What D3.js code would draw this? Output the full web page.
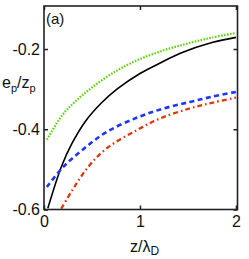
<!DOCTYPE html>
<html>
<head>
<meta charset="utf-8">
<script src="https://cdn.jsdelivr.net/npm/d3@7"></script>
<style>
  html, body { margin: 0; padding: 0; background: #fff; }
  svg text { font-family: "Liberation Sans", Arial, sans-serif; fill: #111; }
</style>
</head>
<body>
<div id="chart"></div>
<script>
// Values
const xTicks = [0, 1, 2];
const yTicks = [-0.6, -0.4, -0.2];

const solidX = [0.04, 0.18, 0.29, 0.44, 0.6, 0.76, 1.0, 1.2, 1.42, 1.75, 2.0];
const solidY = [-0.597, -0.494, -0.436, -0.3775, -0.334, -0.300, -0.261, -0.236, -0.2105, -0.184, -0.171];

const dottedX = [0.03, 0.19, 0.33, 0.5, 0.75, 1.0, 1.25, 1.5, 1.75, 2.0];
const dottedY = [-0.426, -0.365, -0.330, -0.296, -0.255, -0.225, -0.203, -0.186, -0.1715, -0.160];

const dashedX = [0.03, 0.2, 0.41, 0.65, 0.98, 1.25, 1.52, 1.75, 2.0];
const dashedY = [-0.544, -0.494, -0.4495, -0.407, -0.370, -0.348, -0.332, -0.319, -0.307];

const dashDotX = [0.18, 0.305, 0.46, 0.65, 0.965, 1.21, 1.52, 1.75, 2.0];
const dashDotY = [-0.598, -0.548, -0.494, -0.448, -0.4025, -0.373, -0.348, -0.334, -0.321];

const width = 249;
const height = 259;
const margin = { top: 6, right: 11.5, bottom: 49.5, left: 44 };

const svg = d3.select('#chart')
    .append('svg')
    .attr('width', width)
    .attr('height', height);

const x = d3.scaleLinear()
    .domain([0, 2.016])
    .range([margin.left, width - margin.right]);

const y = d3.scaleLinear()
    .domain([-0.6, -0.0928])
    .range([height - margin.bottom, margin.top]);

// clip curves to the frame
svg.append('clipPath')
    .attr('id', 'plot-clip')
    .append('rect')
    .attr('x', margin.left)
    .attr('y', margin.top)
    .attr('width', width - margin.left - margin.right)
    .attr('height', height - margin.top - margin.bottom);

const line = d3.line()
    .x((d) => x(d[0]))
    .y((d) => y(d[1]))
    .curve(d3.curveCatmullRom.alpha(0.5));

const series = [
    { xs: dottedX, ys: dottedY, color: '#5fd40a', width: 2.2, dash: '1.6,1.4' },
    { xs: solidX, ys: solidY, color: '#000000', width: 1.6, dash: null },
    { xs: dashedX, ys: dashedY, color: '#1e36ff', width: 2.6, dash: '5,3.5' },
    { xs: dashDotX, ys: dashDotY, color: '#e0360e', width: 2.3, dash: '5,3,1.6,3' }
];

const curves = svg.append('g').attr('clip-path', 'url(#plot-clip)');
series.forEach((s) => {
    curves.append('path')
        .datum(s.xs.map((v, i) => [v, s.ys[i]]))
        .attr('fill', 'none')
        .attr('stroke', s.color)
        .attr('stroke-width', s.width)
        .attr('stroke-dasharray', s.dash)
        .attr('d', line);
});

// axes: ticks point inward, mirrored on top and right
const tickLen = 4;
const fontSize = '16px';

svg.append('g')
    .attr('transform', `translate(0,${height - margin.bottom})`)
    .call(d3.axisBottom(x).tickValues(xTicks).tickSize(-tickLen).tickPadding(6).tickFormat(d3.format('d')));

svg.append('g')
    .attr('transform', `translate(${margin.left},0)`)
    .call(d3.axisLeft(y).tickValues(yTicks).tickSize(-tickLen).tickPadding(4).tickFormat((d) => d3.format('.1f')(d).replace('−', '-')));

svg.append('g')
    .attr('transform', `translate(0,${margin.top})`)
    .call(d3.axisTop(x).tickValues(xTicks).tickSize(-tickLen).tickFormat(''));

svg.append('g')
    .attr('transform', `translate(${width - margin.right},0)`)
    .call(d3.axisRight(y).tickValues(yTicks).tickSize(-tickLen).tickFormat(''));

svg.selectAll('.domain').remove();
svg.selectAll('.tick line').attr('stroke', '#222').attr('stroke-width', 1.5);
svg.selectAll('.tick text')
    .style('font-size', fontSize)
    .style('font-family', '"Liberation Sans", Arial, sans-serif')
    .attr('fill', '#111');

// frame
svg.append('rect')
    .attr('x', margin.left)
    .attr('y', margin.top)
    .attr('width', width - margin.left - margin.right)
    .attr('height', height - margin.top - margin.bottom)
    .attr('fill', 'none')
    .attr('stroke', '#222')
    .attr('stroke-width', 1.6);

// panel label
svg.append('text')
    .attr('x', 46)
    .attr('y', 24)
    .style('font-size', '15px')
    .text('(a)');

// y-axis label, horizontal
const yLabel = svg.append('text')
    .attr('x', 2)
    .attr('y', 88)
    .style('font-size', fontSize);
yLabel.append('tspan').text('e');
yLabel.append('tspan').attr('dy', 4).style('font-size', '11px').text('p');
yLabel.append('tspan').attr('dy', -4).text('/z');
yLabel.append('tspan').attr('dy', 4).style('font-size', '11px').text('p');

// x-axis label
const xLabel = svg.append('text')
    .attr('x', 130)
    .attr('y', 252)
    .style('font-size', fontSize);
xLabel.append('tspan').text('z/λ');
xLabel.append('tspan').attr('dy', 3).style('font-size', '12px').text('D');
</script>
</body>
</html>
